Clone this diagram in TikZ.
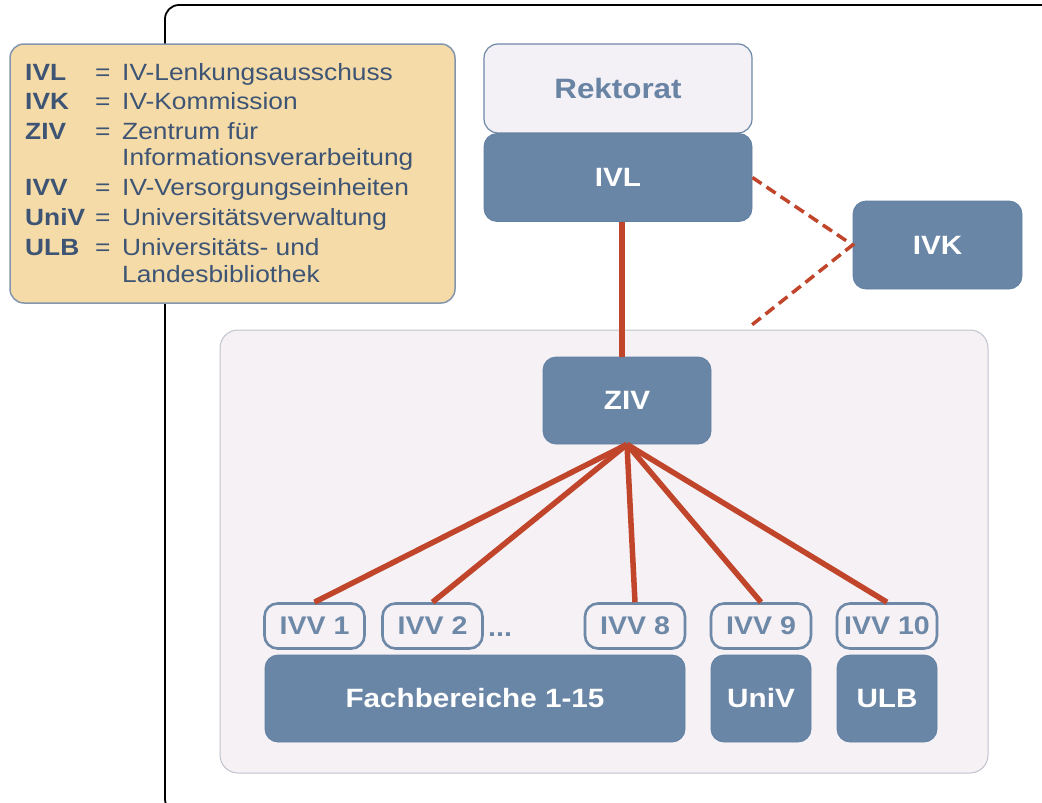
\documentclass[tikz,border=0pt]{standalone}
\usepackage{fontspec}
\setmainfont{Liberation Sans}[FakeStretch=1.12]
\definecolor{nodeblue}{HTML}{6A86A6}
\definecolor{nodeborder}{HTML}{6180A2}
\definecolor{legfill}{HTML}{F5DBA7}
\definecolor{legborder}{HTML}{8496AE}
\definecolor{legtext}{HTML}{3D5475}
\definecolor{areafill}{HTML}{F5F1F5}
\definecolor{areaborder}{HTML}{BFC3CB}
\definecolor{rekfill}{HTML}{F4F1F6}
\definecolor{rektext}{HTML}{6883A3}
\definecolor{redline}{HTML}{C0452A}
\definecolor{ivvcol}{HTML}{6E88A7}
\tikzset{
  darkbox/.style={draw=nodeborder, fill=nodeblue, line width=0.8pt, rounded corners=13pt,
    text=white, font=\fontsize{26.5}{30}\selectfont\bfseries, inner sep=0pt},
  rekbox/.style={draw=ivvcol, fill=rekfill, line width=1.2pt, rounded corners=14pt,
    text=rektext, font=\fontsize{28}{30}\selectfont\bfseries, inner sep=0pt},
  ivvbox/.style={draw=ivvcol, fill=areafill, line width=2.6pt, rounded corners=13pt,
    text=ivvcol, font=\fontsize{25.5}{28}\selectfont\bfseries, inner sep=0pt,
    minimum width=100pt, minimum height=45pt},
  rededge/.style={draw=redline, line width=5.5pt},
  dashedge/.style={draw=redline, line width=3.5pt, dash pattern=on 11pt off 6pt},
  legkey/.style={anchor=base west, inner sep=0pt, text=legtext, font=\fontsize{23.5}{28}\selectfont\bfseries},
  legtxt/.style={anchor=base west, inner sep=0pt, text=legtext, font=\fontsize{23.5}{28}\selectfont},
}
\begin{document}
\begin{tikzpicture}[x=1pt,y=-1pt]
\useasboundingbox (0,0) rectangle (1042,803);
% outer frame
\draw[line width=1.8pt, rounded corners=14pt] (1060,813) -- (165,813) -- (165,5) -- (1060,5);
% legend
\node[draw=legborder, fill=legfill, line width=1.5pt, rounded corners=14pt,
  minimum width=445pt, minimum height=259pt, inner sep=0pt] (legend) at (232.5,173.5) {};
\foreach \n/\y/\k/\d in {a/80/IVL/IV-Lenkungsausschuss, b/109/IVK/IV-Kommission,
  c/139/ZIV/Zentrum für, e/195/IVV/IV-Versorgungseinheiten, f/225/UniV/Universitätsverwaltung,
  g/255/ULB/Universitäts- und}{
  \node[legkey] (k\n) at (25,\y) {\k};
  \node[legtxt] (q\n) at (95,\y) {=};
  \node[legtxt] (d\n) at (122,\y) {\d};
}
\node[legtxt] (dd) at (122,165) {Informationsverarbeitung};
\node[legtxt] (dh) at (122,282) {Landesbibliothek};
% light area
\node[draw=areaborder, fill=areafill, line width=1pt, rounded corners=18pt,
  minimum width=768pt, minimum height=443pt, inner sep=0pt] (area) at (604,551.5) {};
% top nodes
\node[rekbox, minimum width=268pt, minimum height=89pt] (rek) at (618,88.5) {Rektorat};
\node[darkbox, minimum width=268pt, minimum height=88pt] (ivl) at (618,177.5) {IVL};
\node[darkbox, minimum width=169pt, minimum height=88pt] (ivk) at (937.5,245) {IVK};
\node[darkbox, minimum width=168pt, minimum height=87pt] (ziv) at (627,400.5) {ZIV};
% IVV row
\node[ivvbox] (ivv1) at (314.5,626) {IVV 1};
\node[ivvbox] (ivv2) at (432.5,626) {IVV 2};
\node[anchor=base west, inner sep=0pt, text=ivvcol, font=\fontsize{25.5}{28}\selectfont\bfseries] (dots) at (488,636) {...};
\node[ivvbox] (ivv8) at (635,626) {IVV 8};
\node[ivvbox] (ivv9) at (761,626) {IVV 9};
\node[ivvbox] (ivv10) at (887,626) {IVV 10};
% bottom boxes
\node[darkbox, minimum width=420pt, minimum height=87pt] (fb) at (475,698.5) {Fachbereiche 1-15};
\node[darkbox, minimum width=100pt, minimum height=87pt] (univ) at (761,698.5) {UniV};
\node[darkbox, minimum width=100pt, minimum height=87pt] (ulb) at (887,698.5) {ULB};
% connectors
\coordinate (dashend) at (748,328);
\coordinate (ivlfoot) at (622,221.5);
\draw[rededge] (ivlfoot) -- (ivlfoot |- ziv.north);
\foreach \t in {ivv1,ivv2,ivv8,ivv9,ivv10}{
  \draw[rededge] (ziv.south) -- (\t.north);
}
\draw[dashedge] (ivl.east) -- (ivk.west) -- (dashend);
\end{tikzpicture}
\end{document}
